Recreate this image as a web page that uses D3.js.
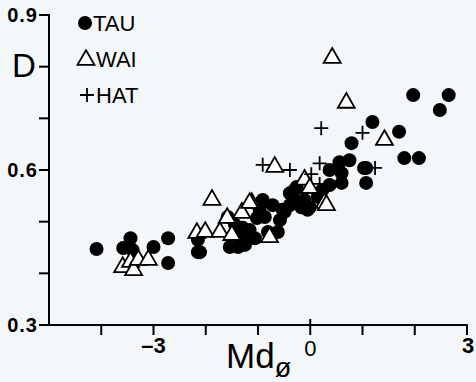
<!DOCTYPE html>
<html>
<head>
<meta charset="utf-8">
<script src="https://cdn.jsdelivr.net/npm/d3@7"></script>
<style>
  body { margin: 0; background: #f4f7fa; }
  svg { display: block; font-family: "Liberation Sans", Arial, sans-serif; }
</style>
</head>
<body>
<div id="chart"></div>
<script>
// TAU (filled circles) : [Md phi, D]
const tauMd = [-4.09, -3.58, -3.44, -3.40, -3.00, -2.72, -2.72, -2.15, -2.15, -2.11,
  -1.58, -1.54, -1.38, -1.21, -1.16, -1.02, -0.87, -0.72, -0.49, -0.93,
  -0.81, -0.62, -1.29, -1.38, -0.39, -0.26, -0.91, -0.53, -0.34, -0.30,
  -0.11, -0.05, 0.18, -0.26, -0.17, -0.01, 0.14, 0.23, 0.56, 0.75,
  1.07, 0.37, 0.60, 0.37, 0.60, 1.07, 0.79, 1.19, 1.70, 1.80,
  2.08, 1.03, 1.97, 2.65, 2.48, -1.25, -1.06, -1.44, -0.39, -0.58,
  -0.97];
const tauD = [0.447, 0.449, 0.468, 0.445, 0.451, 0.468, 0.420, 0.465, 0.441, 0.441,
  0.509, 0.451, 0.451, 0.465, 0.484, 0.507, 0.509, 0.532, 0.519, 0.538,
  0.480, 0.480, 0.488, 0.474, 0.555, 0.567, 0.542, 0.523, 0.548, 0.561,
  0.542, 0.523, 0.555, 0.538, 0.528, 0.528, 0.548, 0.561, 0.615, 0.619,
  0.604, 0.600, 0.594, 0.571, 0.575, 0.575, 0.652, 0.693, 0.674, 0.623,
  0.623, 0.604, 0.745, 0.745, 0.716, 0.455, 0.468, 0.494, 0.532, 0.503,
  0.523];

// WAI (open triangles)
const waiMd = [-3.59, -3.44, -3.38, -3.29, -3.10, -2.17, -1.88, -1.12, -1.31, -1.59,
  -2.01, -1.73, -1.50, -0.78, -1.16, -0.68, -0.11, -0.01, 0.27, 0.31,
  0.42, 0.69, 1.42];
const waiD = [0.412, 0.422, 0.406, 0.426, 0.426, 0.478, 0.542, 0.536, 0.517, 0.507,
  0.480, 0.480, 0.474, 0.470, 0.536, 0.606, 0.581, 0.565, 0.536, 0.532,
  0.817, 0.730, 0.658];

// HAT (plus)
const hatMd = [0.21, 1.00, 1.24, -0.91, -0.39, 0.18, 0.02, 0.18];
const hatD = [0.681, 0.672, 0.604, 0.610, 0.600, 0.613, 0.592, 0.573];

const xTicks = [-4, -3, -2, -1, 0, 1, 2, 3];
const xLabels = [-3, 0, 3];
const yTicks = [0.3, 0.4, 0.5, 0.6, 0.7, 0.8, 0.9];
const yLabels = [0.3, 0.6, 0.9];

const width = 476, height = 382;

const svg = d3.select("#chart").append("svg")
  .attr("width", width)
  .attr("height", height);

let x = d3.scaleLinear().domain([-5, 3]).range([49, 467]);
let y = d3.scaleLinear().domain([0.3, 0.9]).range([325, 15]);

// y axis
svg.append("line")
  .attr("x1", x(-5)).attr("x2", x(-5))
  .attr("y1", y(0.9) - 1).attr("y2", y(0.3))
  .attr("stroke", "#000").attr("stroke-width", 2);
svg.append("g").selectAll("line")
  .data(yTicks)
  .enter().append("line")
    .attr("x1", x(-5) - 10).attr("x2", x(-5))
    .attr("y1", d => y(d)).attr("y2", d => y(d))
    .attr("stroke", "#000").attr("stroke-width", 2);
svg.append("g").selectAll("text")
  .data(yLabels)
  .enter().append("text")
    .attr("x", 38)
    .attr("y", d => y(d) + 7)
    .attr("text-anchor", "end")
    .style("font-size", "20px")
    .style("font-weight", "bold")
    .style("letter-spacing", "1px")
    .text(d => d.toFixed(1));

// x axis
svg.append("line")
  .attr("x1", x(-5) - 1).attr("x2", x(3) + 1)
  .attr("y1", y(0.3)).attr("y2", y(0.3))
  .attr("stroke", "#000").attr("stroke-width", 2);
svg.append("g").selectAll("line")
  .data(xTicks)
  .enter().append("line")
    .attr("x1", d => x(d)).attr("x2", d => x(d))
    .attr("y1", d => d === 0 ? y(0.3) - 6 : y(0.3))
    .attr("y2", y(0.3) + 10)
    .attr("stroke", "#000").attr("stroke-width", 2);
svg.append("g").selectAll("text")
  .data(xLabels)
  .enter().append("text")
    .attr("x", d => x(d) + (d === 3 ? 1 : 0))
    .attr("y", d => d === 0 ? 356 : 353)
    .attr("text-anchor", "middle")
    .style("font-size", "22px")
    .style("font-weight", d => d === 0 ? "normal" : "bold")
    .text(d => d < 0 ? "\u2013" + Math.abs(d) : d);

// axis titles
svg.append("text")
  .attr("x", 12).attr("y", 77)
  .style("font-size", "33px")
  .text("D");
const mdLabel = svg.append("text")
  .attr("x", 226).attr("y", 368)
  .style("font-size", "35px");
mdLabel.append("tspan").text("Md");
mdLabel.append("tspan")
  .attr("dy", 9)
  .style("font-size", "27px")
  .text("\u00f8");

// points
const tri = d3.symbol().type(d3.symbolTriangle).size(125);
const plus = "M-7,0H7M0,-7V7";

svg.append("g").selectAll("circle")
  .data(tauMd)
  .enter().append("circle")
    .attr("cx", d => x(d))
    .attr("cy", (d, i) => y(tauD[i]))
    .attr("r", 7)
    .attr("fill", "#000");

svg.append("g").selectAll("path")
  .data(waiMd)
  .enter().append("path")
    .attr("d", tri)
    .attr("transform", (d, i) => "translate(" + x(d) + "," + y(waiD[i]) + ")")
    .attr("fill", "#fff")
    .attr("stroke", "#000")
    .attr("stroke-width", 1.8);

svg.append("g").selectAll("path")
  .data(hatMd)
  .enter().append("path")
    .attr("d", plus)
    .attr("transform", (d, i) => "translate(" + x(d) + "," + y(hatD[i]) + ")")
    .attr("fill", "none")
    .attr("stroke", "#000")
    .attr("stroke-width", 1.8);

// legend
const legend = svg.append("g");
legend.append("circle").attr("cx", 85).attr("cy", 23).attr("r", 7).attr("fill", "#000");
legend.append("path").attr("d", tri)
  .attr("transform", "translate(86,60)")
  .attr("fill", "#fff").attr("stroke", "#000").attr("stroke-width", 1.8);
legend.append("path").attr("d", plus)
  .attr("transform", "translate(87,95)")
  .attr("stroke", "#000").attr("stroke-width", 1.8);
legend.selectAll("text.lab")
  .data(["TAU", "WAI", "HAT"])
  .enter().append("text")
    .attr("class", "lab")
    .attr("x", (d, i) => i === 0 ? 93 : 96)
    .attr("y", (d, i) => [31, 67, 103][i])
    .style("font-size", "22px")
    .text(d => d);
</script>
</body>
</html>
